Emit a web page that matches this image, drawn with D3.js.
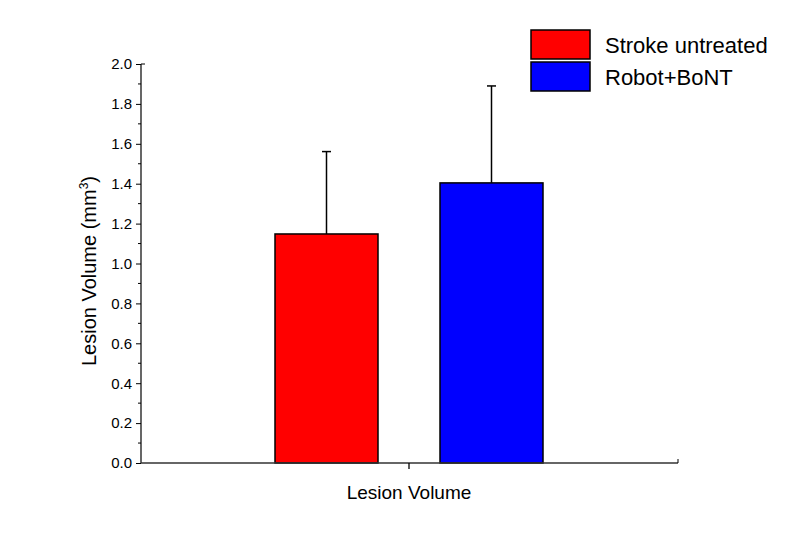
<!DOCTYPE html>
<html><head><meta charset="utf-8">
<script src="https://cdn.jsdelivr.net/npm/d3@7"></script>
<style>body{margin:0;background:#fff}svg{display:block}text{font-family:"Liberation Sans",Arial,sans-serif;fill:#000}</style>
</head><body><svg id="c" width="787" height="556"></svg>
<script>
const categories = ["Stroke untreated", "Robot+BoNT"];
const values = [1.148, 1.404];
const errors = [0.413, 0.486];
const colors = ["#ff0000", "#0000ff"];
const yTicks = [0.0, 0.2, 0.4, 0.6, 0.8, 1.0, 1.2, 1.4, 1.6, 1.8, 2.0];
const xLabel = "Lesion Volume";

const svg = d3.select("#c");
const L = 141, R = 678, T = 64, B = 463;
const y = d3.scaleLinear().domain([0, 2]).range([B, T]);
const x = d3.scaleBand().domain(categories).range([275, 543]).paddingInner(62/165).paddingOuter(0);

// bars
svg.selectAll("rect.bar").data(categories).join("rect")
  .attr("x", d => x(d)).attr("width", x.bandwidth())
  .attr("y", (d,i) => y(values[i])).attr("height", (d,i) => y(0) - y(values[i]))
  .attr("fill", (d,i) => colors[i]).attr("stroke", "#000").attr("stroke-width", 1.5);

// error bars
categories.forEach((d,i) => {
  const cx = x(d) + x.bandwidth()/2;
  svg.append("line").attr("x1", cx).attr("x2", cx).attr("y1", y(values[i])).attr("y2", y(values[i]+errors[i]))
    .attr("stroke", "#000").attr("stroke-width", 1.5);
  svg.append("line").attr("x1", cx-4.5).attr("x2", cx+4.5).attr("y1", y(values[i]+errors[i])).attr("y2", y(values[i]+errors[i]))
    .attr("stroke", "#000").attr("stroke-width", 1.5);
});

// y axis
const ya = svg.append("g").attr("transform", `translate(${L},0)`);
ya.call(d3.axisLeft(y).tickValues(yTicks).tickFormat(d3.format(".1f")).tickSize(5).tickPadding(4));
ya.select(".domain").remove();
ya.selectAll(".tick line").attr("stroke", "#000").attr("stroke-width", 1);
ya.selectAll(".tick text").attr("font-size", 15).style("font-family", '"Liberation Sans",Arial,sans-serif');
const minor = d3.range(1, 20, 2).map(v => v/10);
ya.selectAll("line.minor").data(minor).join("line").attr("class","minor")
  .attr("x1", -3).attr("x2", 0).attr("y1", d => y(d)).attr("y2", d => y(d)).attr("stroke", "#000");
svg.append("line").attr("x1", L).attr("x2", L).attr("y1", T).attr("y2", B).attr("stroke", "#000").attr("stroke-width", 1.2);
svg.append("line").attr("x1", L).attr("x2", L+4).attr("y1", T).attr("y2", T).attr("stroke", "#000");

// x axis
svg.append("line").attr("x1", L).attr("x2", R).attr("y1", B).attr("y2", B).attr("stroke", "#333").attr("stroke-width", 1.5);
svg.append("line").attr("x1", R).attr("x2", R).attr("y1", B).attr("y2", B-4).attr("stroke", "#000");
svg.append("line").attr("x1", 409).attr("x2", 409).attr("y1", B).attr("y2", B+6).attr("stroke", "#000").attr("stroke-width", 1.3);
svg.append("text").attr("x", 409).attr("y", 499).attr("text-anchor", "middle").attr("font-size", 19).text(xLabel);

// y label
const yl = svg.append("text").attr("transform", "translate(96,271) rotate(-90)").attr("text-anchor", "middle").attr("font-size", 20);
yl.append("tspan").text("Lesion Volume (mm");
yl.append("tspan").attr("font-size", 12).attr("dy", -8).text("3");
yl.append("tspan").attr("dy", 8).text(")");

// legend
const lg = svg.append("g");
categories.forEach((d,i) => {
  lg.append("rect").attr("x", 531).attr("y", 30 + i*32).attr("width", 59).attr("height", 29)
    .attr("fill", colors[i]).attr("stroke", "#000").attr("stroke-width", 1.5);
  lg.append("text").attr("x", 605).attr("y", 53 + i*32).attr("font-size", 22).text(d);
});
</script></body></html>
